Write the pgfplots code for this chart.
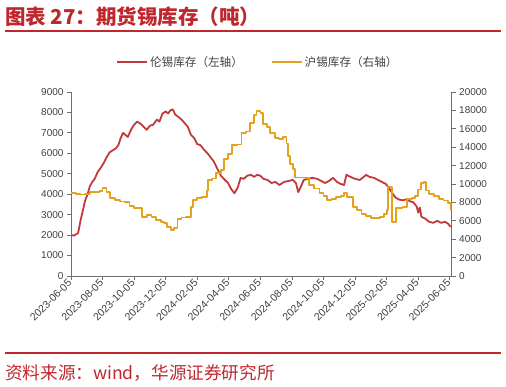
\documentclass[border=0pt]{standalone}
\usepackage{fontspec}
\setmainfont{Liberation Sans}
\newfontfamily\cjk{Noto Sans CJK SC}
\usepackage{pgfplots}
\pgfplotsset{compat=1.18}
\definecolor{lmered}{HTML}{C0393B}
\definecolor{shgold}{HTML}{E4A21C}
\definecolor{titred}{HTML}{C0272D}
\definecolor{axgray}{HTML}{707070}
\definecolor{txtgray}{HTML}{404040}

\pgfplotstableread{
m v
0 2000
0.2 1980
0.45 2100
0.6 2700
0.75 3200
0.9 3700
1.05 4000
1.2 4400
1.35 4600
1.5 4750
1.7 5100
1.85 5250
2.05 5500
2.25 5800
2.45 6050
2.65 6150
2.85 6250
3.0 6400
3.15 6750
3.3 7000
3.45 6900
3.6 6800
3.8 7150
4.0 7400
4.2 7550
4.4 7450
4.6 7300
4.8 7150
5.0 7350
5.2 7400
5.45 7650
5.6 7550
5.8 7950
6.0 8050
6.15 7950
6.3 8100
6.45 8150
6.6 7900
6.8 7780
7.0 7650
7.2 7480
7.4 7300
7.6 6900
7.8 6750
8.0 6450
8.2 6400
8.4 6200
8.65 6000
8.85 5800
9.05 5600
9.3 5200
9.5 4900
9.75 4700
9.95 4550
10.15 4250
10.35 4050
10.55 4300
10.75 4800
10.95 4750
11.15 4900
11.4 4950
11.6 4850
11.8 4950
12.0 4900
12.2 4750
12.45 4700
12.7 4550
12.95 4600
13.2 4450
13.5 4600
13.8 4650
14.05 4700
14.25 4550
14.4 4100
14.55 4350
14.75 4700
15.0 4750
15.3 4800
15.6 4750
15.85 4650
16.1 4550
16.35 4650
16.6 4800
16.85 4600
17.1 4500
17.3 4450
17.45 4950
17.7 4850
18.0 4750
18.3 4700
18.55 4850
18.7 4950
18.9 4850
19.2 4800
19.45 4700
19.7 4600
19.95 4500
20.15 4300
20.35 4050
20.55 3850
20.75 3750
21.0 3700
21.25 3750
21.5 3650
21.7 3600
21.9 3400
22.0 3100
22.1 3350
22.2 2900
22.45 2800
22.7 2650
22.95 2600
23.2 2700
23.45 2600
23.7 2650
23.9 2550
24.05 2400
}\lme

\pgfplotstableread{
m v
0 9000
0.3 8950
0.6 8850
0.9 8900
1.2 9100
1.5 9150
1.8 9200
2.0 9550
2.25 9100
2.45 8500
2.8 8300
3.1 8100
3.4 8000
3.7 7600
4.0 7400
4.3 7350
4.5 6450
4.8 6650
5.1 6400
5.4 6100
5.7 5900
5.9 5800
6.1 5300
6.35 5000
6.55 5200
6.75 6200
7.0 6350
7.3 6400
7.6 7500
7.75 8250
8.0 8500
8.3 8600
8.6 9300
8.7 10400
8.95 10600
9.2 11200
9.5 11500
9.7 12700
9.95 13300
10.2 14200
10.5 14300
10.8 15500
11.1 15700
11.35 16600
11.6 17500
11.75 17900
12.0 17700
12.15 16500
12.4 16200
12.6 15500
12.9 15000
13.2 14900
13.45 15100
13.65 14400
13.75 13000
13.9 12200
14.05 11600
14.2 10700
14.5 10700
14.8 10650
15.1 9900
15.4 9500
15.75 9000
16.0 8700
16.2 8300
16.5 8400
16.8 8600
17.1 8700
17.3 9000
17.5 8600
17.85 7500
18.1 7200
18.4 6700
18.7 6500
19.0 6300
19.3 6300
19.6 6400
19.85 6700
20.0 7200
20.1 9700
20.35 5900
20.6 7400
21.0 7500
21.3 8400
21.6 8500
21.8 8700
22.0 9400
22.15 10100
22.35 10200
22.5 9300
22.7 8900
23.0 8700
23.3 8400
23.6 8200
23.9 7900
24.1 7200
24.12 7200
}\shfe

\pgfplotsset{
  myax/.style={
    at={(71pt,111pt)}, anchor=south west, scale only axis,
    width=380.7pt, height=184pt,
    xmin=0, xmax=24.12,
    axis line style={axgray, line width=0.8pt},
    tick style={axgray, line width=0.8pt},
    major tick length=4pt,
    tick align=outside,
    ticklabel style={text=txtgray, font=\fontsize{10}{12}\selectfont},
    /pgf/number format/assume math mode=true,
    /pgf/number format/set thousands separator={},
    /pgf/number format/fixed,
    scaled ticks=false,
  }
}

\begin{document}
\begin{tikzpicture}
\useasboundingbox (0pt,0pt) rectangle (506pt,387pt);
\node[anchor=west, text=titred, font=\cjk\bfseries\fontsize{20.5}{22}\selectfont, inner sep=0] at (5pt,370pt) {图表 27：期货锡库存（吨）};
\draw[titred, line width=1.5pt] (5pt,356pt) -- (501pt,356pt);
\draw[titred, line width=1.2pt] (5pt,34pt) -- (501pt,34pt);
\node[anchor=west, text=titred, font=\cjk\fontsize{17.6}{19}\selectfont, inner sep=0] at (5pt,14pt) {资料来源：wind，华源证券研究所};

\begin{axis}[myax,
  ymin=0, ymax=9000,
  axis y line*=left, axis x line*=bottom,
  ytick={0,1000,...,9000},
  xtick={0,2,...,24},
  xticklabels={2023-06-05,2023-08-05,2023-10-05,2023-12-05,2024-02-05,2024-04-05,2024-06-05,2024-08-05,2024-10-05,2024-12-05,2025-02-05,2025-04-05,2025-06-05},
  xticklabel style={rotate=45, anchor=east, inner sep=1.5pt, font=\fontsize{10.5}{12}\selectfont},
  legend style={at={(0.491,1.163)}, anchor=center, draw=none, fill=none,
    legend columns=2, font=\cjk\fontsize{11.6}{13}\selectfont, text=txtgray,
    /tikz/every even column/.append style={column sep=26pt}},
  legend image code/.code={\draw[#1] (0pt,0pt) -- (30pt,0pt);},
]
\addplot[lmered, line width=1.8pt, line join=round] table[x=m,y=v] {\lme};
\addlegendentry{伦锡库存（左轴）}
\addlegendimage{shgold, line width=1.8pt}
\addlegendentry{沪锡库存（右轴）}
\end{axis}

\begin{axis}[myax,
  ymin=0, ymax=20000,
  axis y line*=right, axis x line=none,
  ytick={0,2000,...,20000},
]
\addplot[shgold, line width=1.8pt, const plot, line join=round] table[x=m,y=v] {\shfe};
\end{axis}
\end{tikzpicture}
\end{document}
